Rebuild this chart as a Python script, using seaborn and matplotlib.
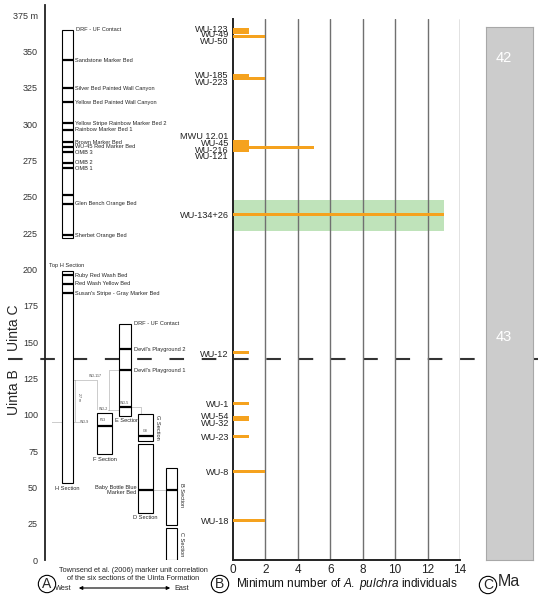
import numpy as np
import pandas as pd
import seaborn as sns
import matplotlib.pyplot as plt
import matplotlib.transforms as mtransforms
from matplotlib.lines import Line2D
from matplotlib.patches import FancyArrowPatch

# ---------------- data ----------------
# Panel B: sites, stratigraphic level (m) of bar and label, minimum number of individuals
site_names = ['WU-123', 'WU-49', 'WU-50', 'WU-185', 'WU-223', 'MWU 12.01', 'WU-45',
              'WU-216', 'WU-121', 'WU-134+26', 'WU-12', 'WU-1', 'WU-54', 'WU-32',
              'WU-23', 'WU-8', 'WU-18']
bar_m = [365.0, 362.8, 360.5, 333.5, 331.0, 288.0, 285.8, 284.0, 282.0, 237.8,
         142.5, 107.8, 98.2, 96.5, 85.0, 60.8, 27.5]
label_m = [366.0, 362.0, 357.6, 334.0, 329.3, 292.0, 287.4, 282.8, 278.2, 237.4,
           142.2, 107.8, 99.3, 94.8, 85.0, 60.8, 27.5]
mni = [1, 1, 2, 1, 2, 1, 1, 5, 1, 13, 1, 1, 1, 1, 1, 2, 2]
band_m = [226.4, 247.7]          # WU-134+26 uncertainty range
band_mni = 13
uinta_boundary_m = 138.3
mni_ticks = [0, 2, 4, 6, 8, 10, 12, 14]

# Panel A: sections (m)
section_names = ['H_upper', 'H_lower', 'E', 'F', 'G', 'D', 'B', 'C']
section_bottom = [221.5, 52.8, 99.4, 73.0, 82.0, 32.6, 24.0, 0.0]
section_top = [365.0, 199.0, 162.4, 101.0, 100.7, 79.6, 63.0, 21.8]

bed_section = ['H_upper'] * 13 + ['H_lower'] * 3 + ['E'] * 3 + ['F', 'G', 'D', 'B']
bed_m = [344, 324.5, 315, 300.4, 296, 287.5, 284.5, 280.5, 273.5, 269.5, 251, 245, 223.5,
         196, 190, 183.5, 145, 130.7, 105.5, 92.4, 85.3, 48, 48]
bed_label = ['Sandstone Marker Bed', 'Silver Bed Painted Wall Canyon',
             'Yellow Bed Painted Wall Canyon', 'Yellow Stripe Rainbow Marker Bed 2',
             'Rainbow Marker Bed 1', 'Brown Marker Bed', 'WU-45 Red Marker Bed',
             'OMB 3', 'OMB 2', 'OMB 1', '', 'Glen Bench Orange Bed', 'Sherbet Orange Bed',
             'Ruby Red Wash Bed', 'Red Wash Yellow Bed', "Susan's Stripe - Gray Marker Bed",
             "Devil's Playground 2", "Devil's Playground 1", '', '', '', '', '']
height_ticks = [0, 25, 50, 75, 100, 125, 150, 175, 200, 225, 250, 275, 300, 325, 350, 375]
height_labels = [str(t) for t in height_ticks[:-1]] + ['375 m']

# Panel C: age scale (Ma)
age_ticks = [42.0, 42.2, 42.4, 42.6, 42.8, 43.0, 43.2, 43.4, 43.6, 43.8]
age_labels = [42, 43]
age_range = [41.89, 43.80]

# ---------------- layout ----------------
W, H = 538, 600
ORANGE = '#f5a21e'
GREEN = '#bfe3ba'
PX_PER_M = 1.4533
Y0 = 560  # pixel row of 0 m


def box(x0, y0, x1, y1):
    return [x0 / W, 1 - y1 / H, (x1 - x0) / W, (y1 - y0) / H]


def m_at(py):
    return (Y0 - py) / PX_PER_M


# section column centre / width, in pixels relative to the panel-A axis line (x=45)
col = {'H_upper': (22, 11), 'H_lower': (22, 11), 'E': (80.2, 11.7), 'F': (59.5, 14.4),
       'G': (100.5, 14.4), 'D': (100.5, 14.4), 'B': (126.2, 11), 'C': (126.2, 11)}

sns.set_theme(style='white')
plt.rcParams['font.family'] = ['Liberation Sans', 'DejaVu Sans']
plt.rcParams['mathtext.fontset'] = 'custom'
plt.rcParams['mathtext.rm'] = 'Liberation Sans'
plt.rcParams['mathtext.it'] = 'Liberation Sans:italic'

fig = plt.figure(figsize=(W / 100, H / 100), dpi=100)
fig.patch.set_facecolor('white')

# ---------------- panel A ----------------
axA = fig.add_axes(box(45, 5, 215, 560))
axA.set_facecolor('none')
axA.set_xlim(0, 170)
axA.set_ylim(0, m_at(5))

xs = [col[s][0] for s in section_names]
ws = [col[s][1] for s in section_names]
hs = [t - b for t, b in zip(section_top, section_bottom)]
axA.bar(xs, hs, bottom=section_bottom, width=ws, color='white', edgecolor='black',
        linewidth=0.8, zorder=3)
for s, m, lab in zip(bed_section, bed_m, bed_label):
    cx, w = col[s]
    axA.hlines(m, cx - w / 2, cx + w / 2, color='black', lw=1.6, zorder=4)
    if lab:
        axA.text(cx + w / 2 + 2.5, m, lab, fontsize=4.1, va='center', ha='left')

small = dict(fontsize=4.1, va='center')
axA.text(30.5, 365, 'DRF - UF Contact', ha='left', **small)
axA.text(88.5, 162.4, 'DRF - UF Contact', ha='left', **small)
axA.text(22, 202.5, 'Top H Section', ha='center', **small)
axA.text(22, 49, 'H Section', ha='center', **small)
axA.text(82.5, 96.2, 'E Section', ha='center', **small)
axA.text(60, 69, 'F Section', ha='center', **small)
axA.text(100, 29.3, 'D Section', ha='center', **small)
axA.text(91.5, 48, 'Baby Bottle Blue\nMarker Bed', ha='right', fontsize=4.1, va='center',
         linespacing=1.0)
axA.text(112, 91.5, 'G Section', rotation=-90, ha='center', **small)
axA.text(137, 45, 'B Section', rotation=-90, ha='center', **small)
axA.text(137, 11, 'C Section', rotation=-90, ha='center', **small)

# dotted correlation lines
dot = dict(color='#8a8a8a', lw=0.6, ls=(0, (1.2, 1.2)), zorder=2)
axA.plot([7, 34], [95.3, 95.3], **dot)
axA.plot([27.5, 52, 52], [124, 124, 103], **dot)
axA.plot([30, 30], [124, 95.3], **dot)
axA.plot([63, 74.3], [103.3, 103.3], **dot)
axA.plot([64.3, 64.3, 74.3], [103.3, 131, 131], **dot)
axA.plot([86, 96, 96], [105.5, 105.5, 88.5], **dot)
axA.plot([107.7, 120.7], [48, 48], **dot)
tiny = dict(fontsize=2.6, va='center', color='#444')
axA.text(50, 126.5, 'WU-117', ha='center', **tiny)
axA.text(35, 95.3, 'WU-9', ha='left', **tiny)
axA.text(33.5, 112, '27 m', ha='center', rotation=-90, **tiny)
axA.text(58.5, 104.2, 'WU-2', ha='center', **tiny)
axA.text(58, 96, 'F13', ha='center', **tiny)
axA.text(79.5, 107.8, 'WU-5', ha='center', **tiny)
axA.text(100, 88.8, 'G8', ha='center', **tiny)

for sp in ['top', 'right', 'bottom']:
    axA.spines[sp].set_visible(False)
axA.spines['left'].set_color('#222222')
axA.spines['left'].set_linewidth(1.3)
axA.set_xticks([])
axA.set_yticks(height_ticks, height_labels)
axA.tick_params(axis='y', length=0, pad=5, labelsize=6.5, labelcolor='#333333')

# ---------------- panel B ----------------
axB = fig.add_axes(box(233, 19, 460, 560))
axB.set_facecolor('none')
bars = pd.DataFrame({'site': site_names, 'height_m': bar_m, 'mni': mni})
min_gap = np.min(np.diff(np.sort(bars['height_m'].values)))
sns.barplot(data=bars, x='mni', y='height_m', orient='y', native_scale=True,
            width=2.1 / min_gap, color=ORANGE, saturation=1, errorbar=None,
            linewidth=0, ax=axB, zorder=3)
axB.fill_betweenx(band_m, 0, band_mni, color=GREEN, lw=0, zorder=0.5)
for t in mni_ticks[1:]:
    axB.axvline(t, color='#707070', lw=1.0, zorder=1)
axB.set_xlim(0, 14)
axB.set_ylim(0, m_at(19))
axB.set_xticks(mni_ticks, [str(t) for t in mni_ticks])
axB.set_yticks(label_m, site_names)
axB.tick_params(axis='y', length=0, pad=3, labelsize=6.6, labelcolor='#222222')
axB.tick_params(axis='x', length=0, pad=3, labelsize=8.5, labelcolor='#222222')
for sp in ['top', 'right']:
    axB.spines[sp].set_visible(False)
for sp in ['left', 'bottom']:
    axB.spines[sp].set_color('#222222')
    axB.spines[sp].set_linewidth(1.4)
axB.set_xlabel(r'Minimum number of $\mathit{A.\ pulchra}$ individuals', fontsize=8.5,
               labelpad=0, color='#111111')
axB.set_ylabel('')

# ---------------- panel C ----------------
axC = fig.add_axes(box(486, 27, 533, 560))
axC.set_facecolor('#cccccc')
axC.set_ylim(age_range[1], age_range[0])
axC.set_xlim(0, 1)
axC.set_xticks([])
axC.set_yticks(age_ticks)
axC.tick_params(axis='y', direction='in', color='white', length=4, width=0.8,
                labelleft=False)
for sp in axC.spines.values():
    sp.set_color('#a8a8a8')
    sp.set_linewidth(0.8)
trC = mtransforms.blended_transform_factory(axC.transAxes, axC.transData)
for a in age_labels:
    axC.text(0.2, a, str(a), transform=trC, color='white', fontsize=10.5,
             va='center', ha='left')

# ---------------- figure-level annotations ----------------
trB = mtransforms.blended_transform_factory(fig.transFigure, axB.transData)
fig.add_artist(Line2D([0.015, 1], [uinta_boundary_m] * 2, transform=trB, color='#333333',
                      lw=1.5, ls=(0, (7, 8.5)), zorder=-1))
fig.text(14 / W, 159.6, 'Uinta C', transform=trB, rotation=90, ha='center', va='center',
         fontsize=10)
fig.text(14 / W, 115.6, 'Uinta B', transform=trB, rotation=90, ha='center', va='center',
         fontsize=10)

circ = dict(boxstyle='circle,pad=0.12', fc='white', ec='black', lw=0.8)
fig.text(47 / W, 1 - 584 / H, 'A', fontsize=10, ha='center', va='center', bbox=circ)
fig.text(220 / W, 1 - 584 / H, 'B', fontsize=10, ha='center', va='center', bbox=circ)
fig.text(488 / W, 1 - 585 / H, 'C', fontsize=10, ha='center', va='center', bbox=circ)
fig.text(498 / W, 1 - 581 / H, 'Ma', fontsize=11.5, ha='left', va='center')

fig.text(133 / W, 1 - 570 / H, 'Townsend et al. (2006) marker unit correlation',
         fontsize=5.3, ha='center', va='center')
fig.text(133 / W, 1 - 579 / H, 'of the six sections of the Uinta Formation',
         fontsize=5.3, ha='center', va='center')
fig.text(63 / W, 1 - 588 / H, 'West', fontsize=5.3, ha='center', va='center')
fig.text(182 / W, 1 - 588 / H, 'East', fontsize=5.3, ha='center', va='center')
fig.add_artist(FancyArrowPatch((76 / W, 1 - 588 / H), (173 / W, 1 - 588 / H),
                               transform=fig.transFigure, arrowstyle='<|-|>',
                               mutation_scale=5, lw=0.8, color='black'))

fig.savefig('out.png', dpi=100)
